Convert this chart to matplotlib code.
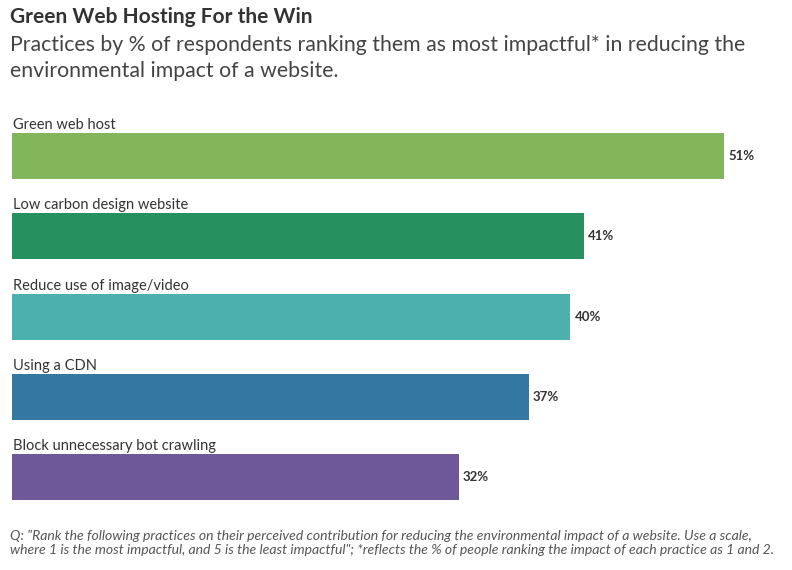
import matplotlib
matplotlib.use("Agg")
from matplotlib import pyplot as plt

# Data
practices = [
    "Green web host",
    "Low carbon design website",
    "Reduce use of image/video",
    "Using a CDN",
    "Block unnecessary bot crawling",
]
shares = [51, 41, 40, 37, 32]
bar_colors = ["#83b65b", "#26905f", "#4bb0ae", "#3478a1", "#6e589a"]

title = "Green Web Hosting For the Win"
subtitle = ("Practices by % of respondents ranking them as most impactful* in reducing the\n"
            "environmental impact of a website.")
footnote = ('Q: "Rank the following practices on their perceived contribution for reducing the '
            'environmental impact of a website. Use a scale,\n'
            'where 1 is the most impactful, and 5 is the least impactful"; *reflects the % of '
            'people ranking the impact of each practice as 1 and 2.')

plt.rcParams['font.family'] = ['Lato', 'DejaVu Sans']

W, H = 792, 570
fig = plt.figure(figsize=(W / 100, H / 100), dpi=100)

# axes placed in pixel terms: x from 12px, 13.96 px per percent
px_per_unit = 712 / 51
xmax = 55
ax_left = 12
ax_width = xmax * px_per_unit
row = 80.25
top_px = 108
ax_height = 5.2 * row
ax = fig.add_axes([ax_left / W, 1 - (top_px + ax_height) / H, ax_width / W, ax_height / H])

bar_h = 46 / row
ypos = list(range(len(practices)))
ax.barh(ypos, shares, height=bar_h, color=bar_colors, edgecolor='none')

for y, name, val in zip(ypos, practices, shares):
    ax.text(0.05, y - bar_h / 2 - 4 / row, name, ha='left', va='baseline',
            fontsize=10.5, color='#333333')
    ax.text(val + 4 / px_per_unit, y, f"{val}%", ha='left', va='center',
            fontsize=9.5, fontweight='bold', color='#333333')

ax.set_xlim(0, xmax)
ax.set_ylim(4.6, -0.6)
ax.axis('off')

fig.text(10 / W, 1 - 7 / H, title, ha='left', va='top', fontsize=15,
         fontweight='bold', color='#333333')
fig.text(10 / W, 1 - 35 / H, subtitle, ha='left', va='top', fontsize=15.3,
         color='#444444', linespacing=1.4)
fig.text(10 / W, 1 - 530 / H, footnote, ha='left', va='top', fontsize=10.1,
         style='italic', color='#555555', linespacing=1.25)

fig.savefig("out.png", dpi=100)
